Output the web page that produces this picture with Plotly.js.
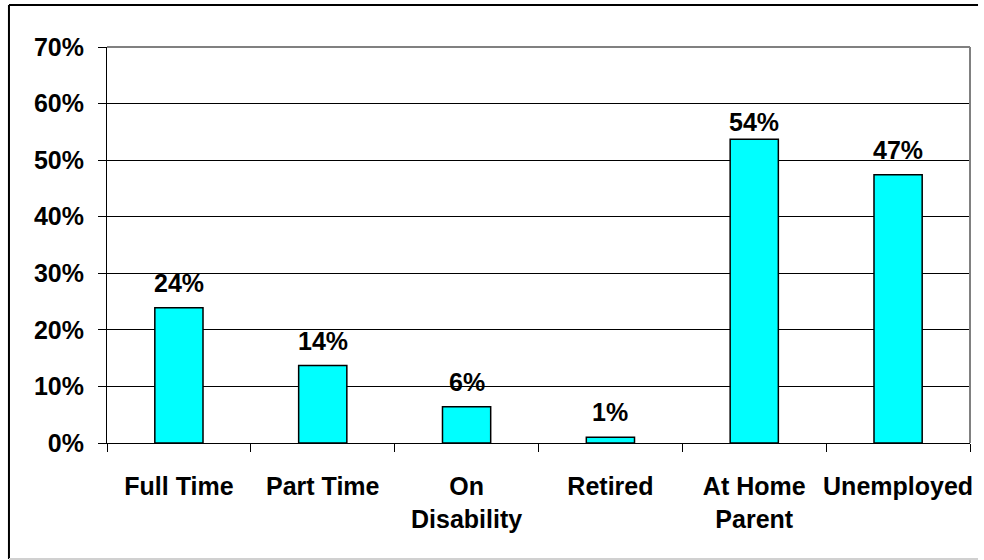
<!DOCTYPE html>
<html>
<head>
<meta charset="utf-8">
<script src="https://cdn.plot.ly/plotly-3.0.1.min.js"></script>
<style>
html,body{margin:0;padding:0;background:#fff;}
#chart{width:984px;height:560px;}
</style>
</head>
<body>
<div id="chart"></div>
<script>
var categories = ["Full Time", "Part Time", "On<br>Disability", "Retired", "At Home<br>Parent", "Unemployed"];
var values = [23.9, 13.7, 6.4, 1.0, 53.7, 47.4];
var valueLabels = ["24%", "14%", "6%", "1%", "54%", "47%"];
var yTickVals = [0, 10, 20, 30, 40, 50, 60, 70];
var yTickText = ["0%", "10%", "20%", "30%", "40%", "50%", "60%", "70%"];

var fontFam = "'Liberation Sans', Arial, sans-serif";

var trace = {
  type: 'bar',
  x: categories,
  y: values,
  width: 0.335,
  marker: {color: '#00FFFF', line: {color: '#000000', width: 1.5}},
  hoverinfo: 'skip'
};

// the label over the tallest bar sits closer to its bar in the reference
var maxIdx = values.indexOf(Math.max.apply(null, values));
var annotations = categories.map(function(c, i){
  return {
    x: c, y: values[i], xref: 'x', yref: 'y',
    text: valueLabels[i], showarrow: false,
    yanchor: 'bottom', yshift: (i === maxIdx ? 1 : 9),
    font: {family: fontFam, size: 25, color: '#000', weight: 700}
  };
});

var layout = {
  width: 984, height: 560,
  margin: {l: 107, r: 14, t: 47, b: 117, pad: 0},
  paper_bgcolor: '#ffffff',
  plot_bgcolor: '#ffffff',
  showlegend: false,
  font: {family: fontFam, size: 25, color: '#000', weight: 700},
  xaxis: {
    type: 'category',
    tickson: 'boundaries',
    tickangle: 0,
    automargin: false,
    ticks: 'outside', ticklen: 8, tickwidth: 1, tickcolor: '#000',
    showline: true, linecolor: '#000', linewidth: 1,
    showgrid: false, zeroline: false,
    ticklabelstandoff: 21,
    tickfont: {family: fontFam, size: 25, color: '#000', weight: 700}
  },
  yaxis: {
    range: [0, 70],
    tickmode: 'array',
    tickvals: yTickVals,
    ticktext: yTickText,
    automargin: false,
    ticks: 'outside', ticklen: 8, tickwidth: 1, tickcolor: '#000',
    showline: true, linecolor: '#000', linewidth: 1,
    showgrid: true, gridcolor: '#000', gridwidth: 1,
    zeroline: false,
    ticklabelstandoff: 9,
    tickfont: {family: fontFam, size: 25, color: '#000', weight: 700}
  },
  annotations: annotations,
  shapes: [
    {type: 'line', xref: 'paper', yref: 'paper', x0: 0, x1: 1, y0: 1, y1: 1, line: {color: '#808080', width: 2}},
    {type: 'line', xref: 'paper', yref: 'paper', x0: 1, x1: 1, y0: 0, y1: 1, line: {color: '#808080', width: 2}},
    {type: 'line', xref: 'paper', yref: 'paper', x0: -0.1136, x1: 1.0093, y0: 1.106, y1: 1.106, line: {color: '#000', width: 2}},
    {type: 'line', xref: 'paper', yref: 'paper', x0: -0.1136, x1: -0.1136, y0: -0.293, y1: 1.106, line: {color: '#000', width: 2}},
    {type: 'line', xref: 'paper', yref: 'paper', x0: -0.1136, x1: 1.0093, y0: -0.293, y1: -0.293, line: {color: '#d0d0d0', width: 2}}
  ]
};

Plotly.newPlot('chart', [trace], layout, {displayModeBar: false, staticPlot: true});
</script>
</body>
</html>
